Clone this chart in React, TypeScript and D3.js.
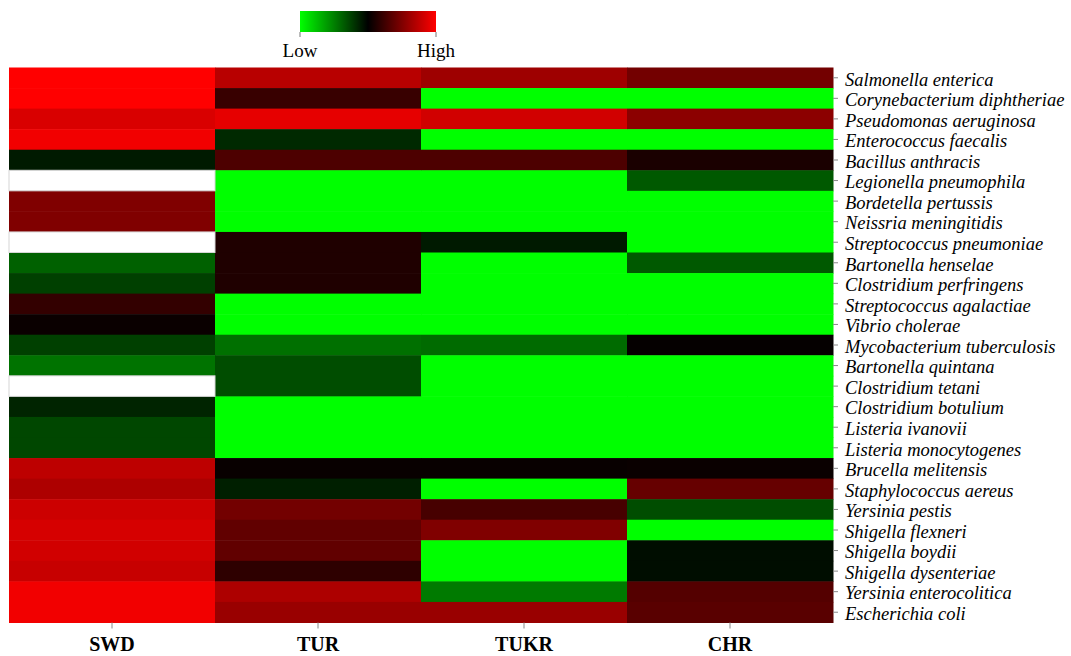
import React from 'react';
import * as d3 from 'd3';

// columns of the heatmap
const samples = ['SWD', 'TUR', 'TUKR', 'CHR'];

const bacteria = [
  'Salmonella enterica',
  'Corynebacterium diphtheriae',
  'Pseudomonas aeruginosa',
  'Enterococcus faecalis',
  'Bacillus anthracis',
  'Legionella pneumophila',
  'Bordetella pertussis',
  'Neissria meningitidis',
  'Streptococcus pneumoniae',
  'Bartonella henselae',
  'Clostridium perfringens',
  'Streptococcus agalactiae',
  'Vibrio cholerae',
  'Mycobacterium tuberculosis',
  'Bartonella quintana',
  'Clostridium tetani',
  'Clostridium botulium',
  'Listeria ivanovii',
  'Listeria monocytogenes',
  'Brucella melitensis',
  'Staphylococcus aereus',
  'Yersinia pestis',
  'Shigella flexneri',
  'Shigella boydii',
  'Shigella dysenteriae',
  'Yersinia enterocolitica',
  'Escherichia coli',
];

// relative abundance, -1 = low (green), 0 = black, 1 = high (red); null = no data
const swd = [1.0, 1.0, 0.85, 0.95, -0.1, null, 0.5, 0.5, null, -0.38, -0.25, 0.2, 0.04, -0.25, -0.45,
  null, -0.14, -0.28, -0.28, 0.74, 0.68, 0.8, 0.84, 0.82, 0.78, 0.95, 0.95];
const tur = [0.72, 0.22, 0.9, -0.16, 0.3, -1, -1, -1, 0.12, 0.12, 0.12, -1, -1, -0.44, -0.3,
  -0.3, -1, -1, -1, 0.03, -0.12, 0.45, 0.38, 0.38, 0.18, 0.68, 0.6];
const tukr = [0.62, -1, 0.82, -1, 0.3, -1, -1, -1, -0.1, -1, -1, -1, -1, -0.42, -1,
  -1, -1, -1, -1, 0.03, -1, 0.28, 0.5, -1, -1, -0.48, 0.6];
const chr = [0.45, -1, 0.55, -1, 0.1, -0.35, -1, -1, -1, -0.35, -1, -1, -1, 0.02, -1,
  -1, -1, -1, -1, 0.04, 0.4, -0.3, -1, -0.05, -0.05, 0.33, 0.35];

const columns = [swd, tur, tukr, chr];

const W = 1071, H = 656;
const margin = { top: 67.5, left: 9, right: 238, bottom: 33.5 };

export default function App() {
  const x = d3.scaleBand().domain(samples).range([margin.left, W - margin.right]);
  const y = d3.scaleBand().domain(bacteria).range([margin.top, H - margin.bottom]);
  const color = d3.scaleLinear<string>().domain([-1, 0, 1]).range(['#00ff00', '#000000', '#ff0000']);

  const legend = d3.scaleLinear().domain([-1, 1]).range([300, 436]);
  const stops = d3.range(-1, 1.01, 0.25);

  const serif = '"Liberation Serif", "Times New Roman", serif';
  const x1 = W - margin.right;

  return (
    <svg width={W} height={H} style={{ position: 'absolute', left: 0, top: 0, background: '#fff' }}>
      <defs>
        <linearGradient id="lg" x1="0" x2="1" y1="0" y2="0">
          {stops.map(s => (
            <stop key={s} offset={(s + 1) / 2} stopColor={color(s)} />
          ))}
        </linearGradient>
      </defs>

      {/* legend */}
      <rect x={legend(-1)} y={11} width={legend(1) - legend(-1)} height={21} fill="url(#lg)" />
      {[-1, 1].map(v => (
        <line key={v} x1={legend(v)} x2={legend(v)} y1={32} y2={37} stroke="#777" />
      ))}
      <text x={legend(-1)} y={57} textAnchor="middle" fontFamily={serif} fontSize={19}>Low</text>
      <text x={legend(1)} y={57} textAnchor="middle" fontFamily={serif} fontSize={19}>High</text>

      {/* cells */}
      {samples.map((s, ci) =>
        bacteria.map((b, ri) => {
          const v = columns[ci][ri];
          return (
            <rect
              key={s + b}
              x={x(s)}
              y={y(b)}
              width={x.bandwidth() + 0.5}
              height={y.bandwidth() + 0.5}
              fill={v == null ? '#ffffff' : color(v)}
            />
          );
        })
      )}
      {/* faint outlines of the empty cells */}
      {samples.map((s, ci) =>
        bacteria.map((b, ri) =>
          columns[ci][ri] == null ? (
            <rect key={'o' + s + b} x={x(s)} y={y(b)} width={x.bandwidth()} height={y.bandwidth()}
              fill="none" stroke="#d6d6d6" strokeWidth={1} />
          ) : null
        )
      )}

      {/* row labels */}
      {bacteria.map(b => (
        <g key={b}>
          <line x1={x1} x2={x1 + 5} y1={y(b)! + y.bandwidth() / 2} y2={y(b)! + y.bandwidth() / 2} stroke="#888" />
          <text x={x1 + 12} y={y(b)! + y.bandwidth() / 2} dy="0.42em" fontFamily={serif}
            fontStyle="italic" fontSize={18.5}>{b}</text>
        </g>
      ))}

      {/* column labels */}
      {samples.map(s => (
        <g key={s}>
          <line x1={x(s)! + x.bandwidth() / 2} x2={x(s)! + x.bandwidth() / 2}
            y1={H - margin.bottom} y2={H - margin.bottom + 6} stroke="#888" />
          <text x={x(s)! + x.bandwidth() / 2} y={651} textAnchor="middle" fontFamily={serif}
            fontWeight="bold" fontSize={20}>{s}</text>
        </g>
      ))}
    </svg>
  );
}
